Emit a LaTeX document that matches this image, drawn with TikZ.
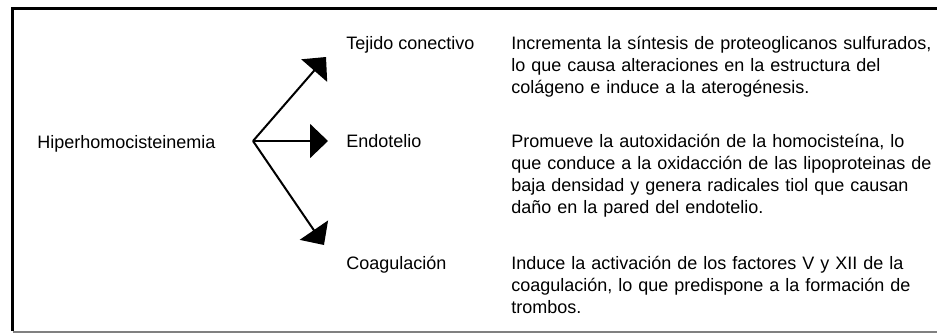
\documentclass[tikz,border=0pt]{standalone}
\usepackage{fontspec}
\setmainfont{Liberation Sans}
\usetikzlibrary{arrows.meta}
\tikzset{ %x=1px, y downwards
  >={Triangle[length=13.5pt,width=25.5pt]},
  {frame/.style} ={line width=2.25pt,draw=black},
  {frame shadow/.style} ={line width=1.5pt,draw=black!50},
  {organ/.style} ={anchor=base west,inner sep=0,
                  font=\fontsize{13.5pt}{16.5pt}\selectfont},
  {effect/.style} ={organ,text width=330pt,align=left},
  {branch/.style} ={->,line width=1.5pt,line join=miter},
}
\begin{document}
\begin{tikzpicture}[x=0.75pt,y=-0.75pt]
\useasboundingbox (0,0) rectangle (937,333);
\draw[frame] (12.5,331) -- (12.5,8.5) -- (937,8.5);
\draw[frame shadow] (12.5,331.5) -- (937,331.5);

\node[organ] (H) at (37,148) {Hiperhomocisteinemia};
\coordinate (fork) at (253,141);
\coordinate (tT) at (326,57);
\coordinate (tE) at (328,141);
\coordinate (tC) at (324,245);
\path[branch] (fork) edge (tT)
                     edge (tE)
                     edge (tC);

\node[organ] (T) at (346,49.5) {Tejido conectivo};
\node[organ] (E) at (346,147.5) {Endotelio};
\node[organ] (C) at (346,269.5) {Coagulación};

\node[effect] (dT) at (511,49.5) {Incrementa la síntesis de proteoglicanos sulfurados,\\
  lo que causa alteraciones en la estructura del\\
  colágeno e induce a la aterogénesis.};
\node[effect] (dE) at (511,147.5) {Promueve la autoxidación de la homocisteína, lo\\
  que conduce a la oxidacción de las lipoproteinas de\\
  baja densidad y genera radicales tiol que causan\\
  daño en la pared del endotelio.};
\node[effect] (dC) at (511,269.5) {Induce la activación de los factores V y XII de la\\
  coagulación, lo que predispone a la formación de\\
  trombos.};
\end{tikzpicture}
\end{document}
